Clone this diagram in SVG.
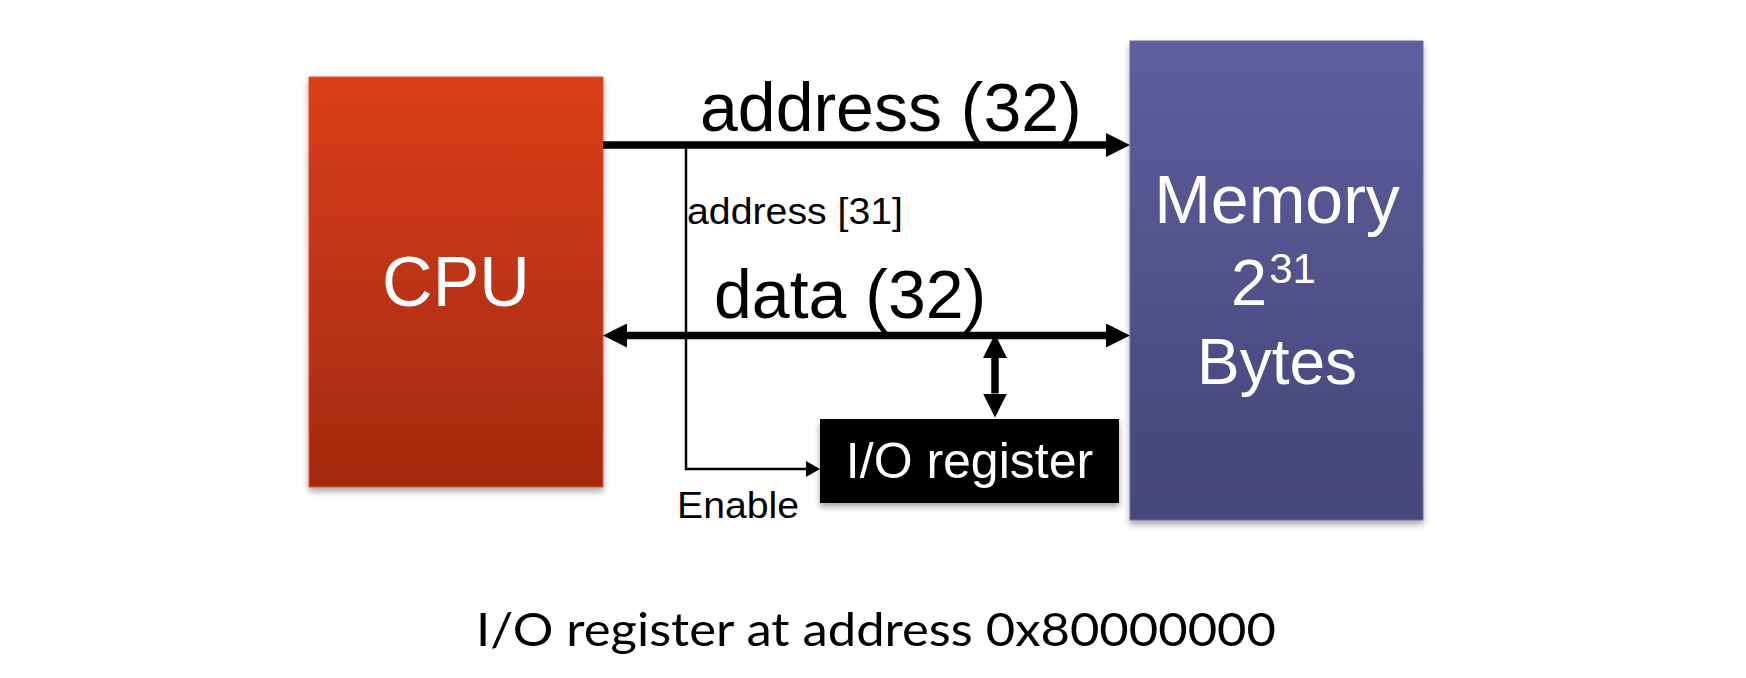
<svg xmlns="http://www.w3.org/2000/svg" width="1746" height="678" viewBox="0 0 1746 678">
  <defs>
    <linearGradient id="cpuGrad" x1="0" y1="0" x2="0" y2="1">
      <stop offset="0" stop-color="#D93D18"/>
      <stop offset="1" stop-color="#A32A10"/>
    </linearGradient>
    <linearGradient id="memGrad" x1="0" y1="0" x2="0" y2="1">
      <stop offset="0" stop-color="#5E5D9E"/>
      <stop offset="1" stop-color="#46467A"/>
    </linearGradient>
    <filter id="shadow" x="-10%" y="-10%" width="120%" height="125%">
      <feDropShadow dx="0" dy="4" stdDeviation="3" flood-color="#000" flood-opacity="0.35"/>
    </filter>
    <marker id="bigHead" markerUnits="userSpaceOnUse" markerWidth="24" markerHeight="24" refX="0" refY="12" orient="auto-start-reverse" viewBox="0 0 24 24">
      <path d="M0,0 L24,12 L0,24 Z" fill="#000"/>
    </marker>
    <marker id="smallHead" markerUnits="userSpaceOnUse" markerWidth="14" markerHeight="16" refX="0" refY="8" orient="auto" viewBox="0 0 14 16">
      <path d="M0,0 L14,8 L0,16 Z" fill="#000"/>
    </marker>
    <style>
      .lbl { font-family: "Liberation Sans", Arial, Helvetica, sans-serif; fill: #000; }
      .wlbl { font-family: "Liberation Sans", Arial, Helvetica, sans-serif; fill: #fff; }
      .bus { stroke: #000; stroke-width: 7.5; fill: none; }
      .wire { stroke: #000; stroke-width: 2.5; fill: none; }
      .caption { font-family: Lato, "Open Sans", sans-serif; fill: #000; }
    </style>
  </defs>

  <rect width="1746" height="678" fill="#fff"/>

  <g id="cpu">
    <rect x="309" y="77" width="294" height="410" fill="url(#cpuGrad)" stroke="#E0552F" stroke-width="1" filter="url(#shadow)"/>
    <text class="wlbl" x="456" y="306" font-size="70" text-anchor="middle">CPU</text>
  </g>

  <g id="memory">
    <rect x="1130" y="41" width="293" height="479" fill="url(#memGrad)" stroke="#6F6EAA" stroke-width="1" filter="url(#shadow)"/>
    <text class="wlbl" x="1277" y="223" font-size="68" text-anchor="middle">Memory</text>
    <text class="wlbl" x="1231" y="305" font-size="65">2<tspan font-size="42" dx="2" dy="-22">31</tspan></text>
    <text class="wlbl" x="1277" y="384" font-size="64" text-anchor="middle">Bytes</text>
  </g>

  <g id="io-register">
    <rect x="820" y="419" width="299" height="84" fill="#000" filter="url(#shadow)"/>
    <text class="wlbl" x="969.5" y="478" font-size="50" text-anchor="middle">I/O register</text>
  </g>

  <g id="connectors">
    <line class="bus" x1="603" y1="145" x2="1106" y2="145" marker-end="url(#bigHead)"/>
    <line class="bus" x1="627" y1="335.5" x2="1106" y2="335.5" marker-start="url(#bigHead)" marker-end="url(#bigHead)"/>
    <line class="bus" x1="995" y1="358" x2="995" y2="393.5" marker-start="url(#bigHead)" marker-end="url(#bigHead)"/>
    <polyline class="wire" points="686,145 686,469 806,469" marker-end="url(#smallHead)"/>
  </g>

  <g id="labels">
    <text class="lbl" x="700" y="131" font-size="68">address (32)</text>
    <text class="lbl" x="687" y="223.5" font-size="37" textLength="216" lengthAdjust="spacingAndGlyphs">address [31]</text>
    <text class="lbl" x="714" y="318" font-size="68">data (32)</text>
    <text class="lbl" x="677" y="518" font-size="37" textLength="122" lengthAdjust="spacingAndGlyphs">Enable</text>
  </g>

  <text id="caption" class="caption" x="476" y="646" font-size="46" textLength="800" lengthAdjust="spacingAndGlyphs">I/O register at address 0x80000000</text>
</svg>
